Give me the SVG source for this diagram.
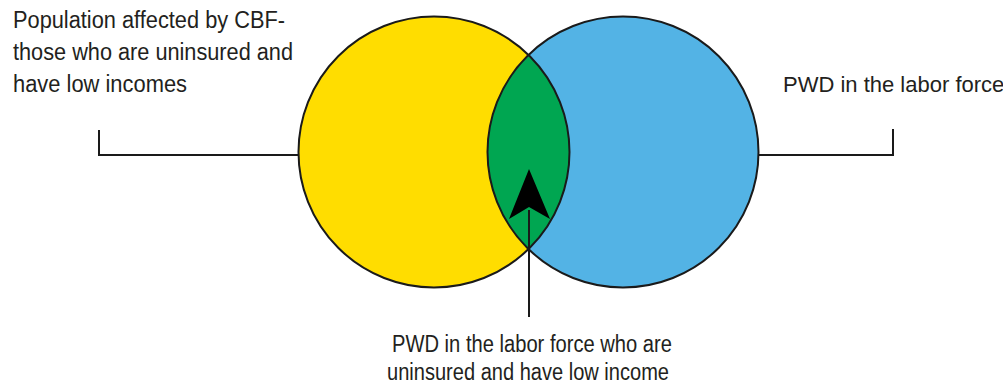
<svg xmlns="http://www.w3.org/2000/svg" width="1003" height="389" viewBox="0 0 1003 389">
<style>
.t{font-family:"Liberation Sans",Arial,sans-serif;font-size:23px;fill:#231f20}
.ln{fill:none;stroke:#1a1a1a;stroke-width:2}
.c{stroke:#1a1a1a;stroke-width:2}
</style>
<defs>
<clipPath id="clipY"><circle cx="434" cy="152" r="135.5"/></clipPath>
</defs>
<rect width="1003" height="389" fill="#fff"/>
<g id="yellow-set">
<circle cx="434" cy="152" r="135.5" fill="#ffdd00"/>
</g>
<g id="blue-set">
<circle cx="623" cy="152" r="135.5" fill="#53b3e5"/>
</g>
<g id="overlap">
<circle cx="623" cy="152" r="135.5" fill="#00a651" clip-path="url(#clipY)"/>
</g>
<g id="outlines">
<circle class="c" cx="434" cy="152" r="135.5" fill="none"/>
<circle class="c" cx="623" cy="152" r="135.5" fill="none"/>
</g>
<g id="connectors">
<polyline class="ln" points="99,130 99,155 298,155"/>
<polyline class="ln" points="759,155 893,155 893,129"/>
<line class="ln" x1="529" y1="210" x2="529" y2="317"/>
<path d="M529,169 L550,219 L529,207 L509,219 Z" fill="#000"/>
</g>
<g id="label-left">
<text class="t" x="13" y="28" textLength="272" lengthAdjust="spacingAndGlyphs">Population affected by CBF-</text>
<text class="t" x="13" y="60" textLength="280" lengthAdjust="spacingAndGlyphs">those who are uninsured and</text>
<text class="t" x="13" y="92" textLength="174" lengthAdjust="spacingAndGlyphs">have low incomes</text>
</g>
<g id="label-right">
<text class="t" x="783" y="92" style="font-size:22px">PWD in the labor force</text>
</g>
<g id="label-bottom">
<text class="t" x="392" y="352" textLength="280" lengthAdjust="spacingAndGlyphs">PWD in the labor force who are</text>
<text class="t" x="387" y="380" textLength="282" lengthAdjust="spacingAndGlyphs">uninsured and have low income</text>
</g>
</svg>
